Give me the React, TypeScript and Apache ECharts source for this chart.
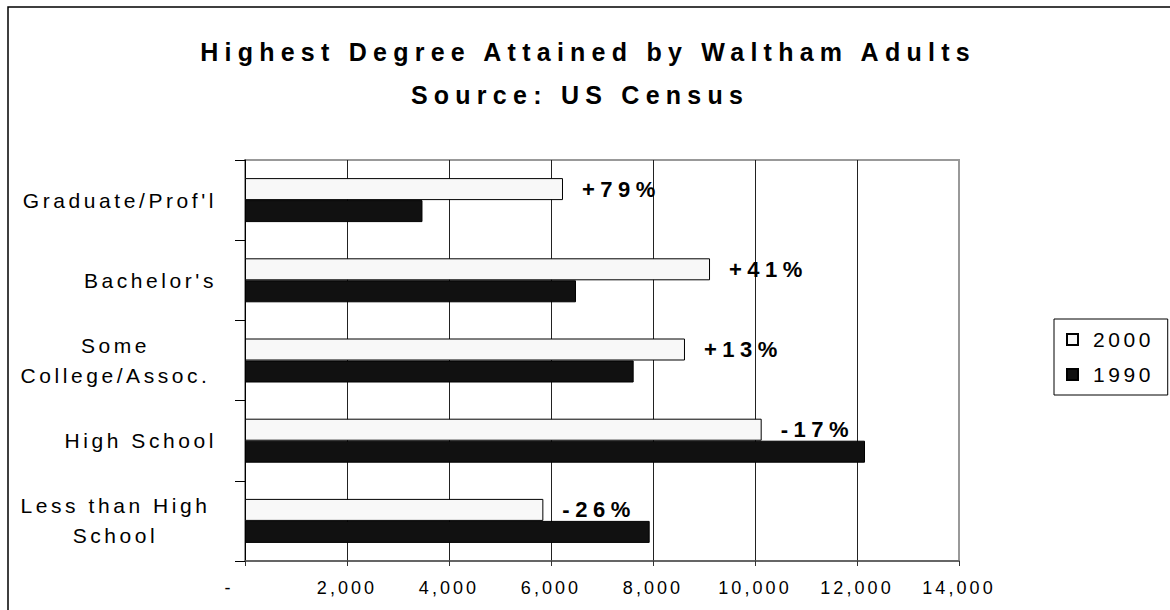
import React, { useEffect, useRef } from 'react';
import * as echarts from 'echarts';

const titleText = 'Highest Degree Attained by Waltham Adults';
const subtitleText = 'Source: US Census';
const categories = ["Graduate/Prof'l", "Bachelor's", 'Some\nCollege/Assoc.', 'High School', 'Less than High\nSchool'];
const seriesNames = ['2000', '1990'];
const values2000 = [6235, 9118, 8627, 10131, 5850];
const values1990 = [3480, 6490, 7621, 12157, 7935];
const changeLabels = ['+79%', '+41%', '+13%', '-17%', '-26%'];
const xMin = 0;
const xMax = 14000;
const xInterval = 2000;

const FONT = '"Liberation Sans", Arial, sans-serif';

export default function App() {
  const ref = useRef<HTMLDivElement>(null);
  useEffect(() => {
    if (!ref.current) return;
    const chart = echarts.init(ref.current, undefined, { renderer: 'svg' });
    const option: any = {
      animation: false,
      backgroundColor: '#fff',
      textStyle: { fontFamily: FONT, color: '#000' },
      graphic: [
        {
          type: 'rect',
          silent: true,
          z: -10,
          shape: { x: 8, y: 7, width: 1200, height: 700 },
          style: { fill: 'none', stroke: '#000', lineWidth: 1.5 },
        },
        {
          type: 'text',
          x: 588,
          y: 52,
          style: {
            text: titleText,
            font: `bold 25px ${FONT}`,
            fill: '#000',
            align: 'center',
            verticalAlign: 'middle',
            textAlign: 'center',
            textVerticalAlign: 'middle',
          },
        },
        {
          type: 'text',
          x: 580,
          y: 95,
          style: {
            text: subtitleText,
            font: `bold 25px ${FONT}`,
            fill: '#000',
            align: 'center',
            verticalAlign: 'middle',
            textAlign: 'center',
            textVerticalAlign: 'middle',
          },
        },
      ],
      legend: {
        orient: 'vertical',
        left: 1054,
        top: 319,
        data: seriesNames,
        icon: 'rect',
        itemWidth: 11,
        itemHeight: 11,
        itemGap: 14,
        padding: [10, 28, 10, 12],
        borderColor: '#000',
        borderWidth: 1,
        textStyle: { fontSize: 21, color: '#000', fontFamily: FONT, padding: [0, 0, 0, 10] },
      },
      grid: {
        left: 245,
        right: 211,
        top: 160,
        bottom: 49,
        show: true,
        borderColor: '#999',
        borderWidth: 2,
        backgroundColor: '#fff',
      },
      xAxis: {
        type: 'value',
        min: xMin,
        max: xMax,
        interval: xInterval,
        axisLine: { show: true, lineStyle: { color: '#555', width: 1.5 } },
        axisTick: { show: true, length: 5, lineStyle: { color: '#333' } },
        splitLine: {
          show: true,
          lineStyle: { color: ['#222', '#222', '#222', '#222', '#222', '#222', '#222', '#999'], width: 1 },
        },
        axisLabel: {
          margin: 18,
          fontSize: 18,
          color: '#000',
          fontFamily: FONT,
          formatter: (v: number) => (v === 0 ? '{z|-}' : v.toLocaleString('en-US')),
          rich: { z: { padding: [0, 32, 0, 0], fontSize: 18, fontFamily: FONT } },
        },
      },
      yAxis: {
        type: 'category',
        inverse: true,
        data: categories,
        axisLine: { show: true, lineStyle: { color: '#000', width: 1 } },
        axisTick: { show: true, length: 10, lineStyle: { color: '#000' } },
        splitLine: { show: false },
        axisLabel: {
          margin: 28,
          fontSize: 21,
          color: '#000',
          fontFamily: FONT,
          formatter: (v: string) =>
            v.indexOf('\n') >= 0
              ? v
                  .split('\n')
                  .map((l) => `{c|${l}}`)
                  .join('\n')
              : `{r|${v}}`,
          rich: {
            c: { width: 203, align: 'center', fontSize: 21, lineHeight: 30, fontFamily: FONT },
            r: { fontSize: 21, fontFamily: FONT },
          },
        },
      },
      series: [
        {
          name: seriesNames[0],
          type: 'bar',
          data: values2000,
          barWidth: 22,
          barGap: '0%',
          itemStyle: { color: '#f8f8f8', borderColor: '#000', borderWidth: 1 },
          label: {
            show: true,
            position: 'right',
            distance: 19,
            formatter: (p: any) => changeLabels[p.dataIndex],
            fontWeight: 'bold',
            fontSize: 22,
            color: '#000',
            fontFamily: FONT,
          },
        },
        {
          name: seriesNames[1],
          type: 'bar',
          data: values1990,
          barWidth: 22,
          barGap: '0%',
          itemStyle: { color: '#111', borderColor: '#000', borderWidth: 1 },
        },
      ],
    };
    chart.setOption(option);
    return () => chart.dispose();
  }, []);
  return (
    <>
      <style>{`
        body { margin: 0; }
        .chart-root text { letter-spacing: 0.17em; }
        .chart-root text[style*="bold"] { letter-spacing: 0.25em; }
      `}</style>
      <div
        ref={ref}
        className="chart-root"
        style={{ position: 'absolute', left: 0, top: 0, width: 1170, height: 610 }}
      />
    </>
  );
}
